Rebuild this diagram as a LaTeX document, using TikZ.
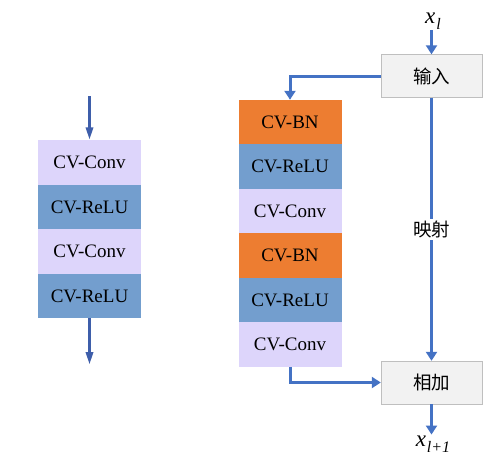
\documentclass[tikz,border=0pt]{standalone}
\usepackage{fontspec}
\setmainfont{Liberation Serif}
\newfontfamily\cjk{Noto Sans CJK SC}
\usetikzlibrary{positioning,arrows.meta}

\definecolor{convcol}{RGB}{221,213,251}
\definecolor{relucol}{RGB}{115,158,206}
\definecolor{bncol}{RGB}{237,125,49}
\definecolor{linecol}{RGB}{68,114,196}
\definecolor{darkline}{RGB}{62,94,170}
\definecolor{boxfill}{RGB}{242,242,242}
\definecolor{boxdraw}{RGB}{191,191,191}

\newcommand{\xsub}[1]{{\fontsize{23}{24}\selectfont\itshape x\kern1pt\raisebox{-6pt}{\fontsize{16}{16}\selectfont #1}}}

\begin{document}
\begin{tikzpicture}[
    x=1pt,y=-1pt,
    layer/.style={minimum width=103pt,minimum height=44.5pt,inner sep=0pt,outer sep=0pt,
        font=\fontsize{19}{20}\selectfont},
    conv/.style={layer,fill=convcol},
    relu/.style={layer,fill=relucol},
    bn/.style={layer,fill=bncol},
    opbox/.style={draw=boxdraw,fill=boxfill,minimum width=101pt,minimum height=43pt,
        inner sep=0pt,font=\cjk\fontsize{18.5}{20}\selectfont},
    varlabel/.style={inner sep=1pt},
    flow/.style={draw=linecol,line width=3pt,-{Triangle[length=9pt,width=11pt]}},
    plainflow/.style={draw=darkline,line width=3pt,-{Triangle[length=13pt,width=7pt]}}
]
\useasboundingbox (0,0) rectangle (493,459);

% plain block
\node (a1) [conv] at (89.5,162.5) {CV-Conv};
\node (a2) [relu,below=0pt of a1] {CV-ReLU};
\node (a3) [conv,below=0pt of a2] {CV-Conv};
\node (a4) [relu,below=0pt of a3] {CV-ReLU};

\coordinate (ain) at (89.5,96);
\coordinate (aout) at (89.5,365);
\draw[plainflow] (ain) -- (a1);
\draw[plainflow] (a4) -- (aout);

% residual block
\node (b1) [bn] at (290,122) {CV-BN};
\node (b2) [relu,below=0pt of b1] {CV-ReLU};
\node (b3) [conv,below=0pt of b2] {CV-Conv};
\node (b4) [bn,below=0pt of b3] {CV-BN};
\node (b5) [relu,below=0pt of b4] {CV-ReLU};
\node (b6) [conv,below=0pt of b5] {CV-Conv};

\node (inp) [opbox] at (431.5,76) {输入};
\node (add) [opbox] at (431.5,382.5) {相加};

\node (xin) [varlabel] at (433,21) {\xsub{l}};
\node (xout) [varlabel] at (433,444) {\xsub{l+1}};

\draw[flow] (xin.south -| inp) -- (inp);
\draw[flow] (inp) -- node[fill=white,inner sep=2pt,font=\cjk\fontsize{18.5}{20}\selectfont] {映射} (add);
\draw[flow] (inp.west) -| (b1.north);
\draw[flow] (b6.south) |- (add.west);
\draw[flow] (add) -- (add |- xout.north);

\end{tikzpicture}
\end{document}
